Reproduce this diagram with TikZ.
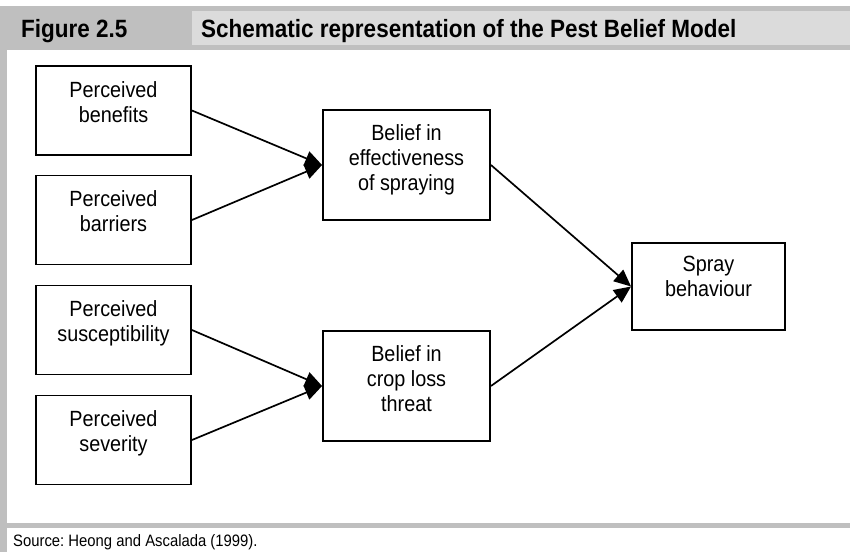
\documentclass[tikz,border=0pt]{standalone}
\usepackage{fontspec}
\setmainfont{Liberation Sans}[FakeStretch=0.9]
\usetikzlibrary{arrows.meta}
\frenchspacing
\definecolor{banddark}{gray}{0.75}
\definecolor{bandlight}{gray}{0.86}
\tikzset{
  box/.style={draw=black, line width=1.9pt, minimum width=155pt},
  boxtext/.style={anchor=north, align=center, inner sep=0pt,
    font=\fontsize{22}{25}\selectfont},
  link/.style={line width=1.7pt, -{Triangle[length=17pt,width=15pt]}},
}
\begin{document}
\begin{tikzpicture}[x=1pt, y=-1pt]
\useasboundingbox (0,0) rectangle (850,552);
% header band and frame
\fill[banddark] (0,6) rectangle (850,50);
\fill[bandlight] (192,11) rectangle (850,45);
\fill[banddark] (0,50) rectangle (7,552);
\fill[banddark] (7,523) rectangle (850,528);
\node[anchor=base west, inner sep=0pt, font=\fontsize{25}{28}\selectfont\bfseries] (fig) at (21,37) {Figure 2.5};
\node[anchor=base west, inner sep=0pt, font=\fontsize{25}{28}\selectfont\bfseries] (title) at (201,37) {Schematic representation of the Pest Belief Model};
\node[anchor=base west, inner sep=0pt, font=\fontsize{16.5}{19}\selectfont] (src) at (13,546) {Source: Heong and Ascalada (1999).};
% boxes
\node[box, minimum height=89pt] (ben) at (113.5,110.5) {};
\node[box, minimum height=89pt] (bar) at (113.5,220) {};
\node[box, minimum height=89pt] (sus) at (113.5,330) {};
\node[box, minimum height=89pt] (sev) at (113.5,440) {};
\node[box, minimum width=167pt, minimum height=110pt] (eff) at (406.5,165) {};
\node[box, minimum width=167pt, minimum height=110pt] (crop) at (406.5,386) {};
\node[box, minimum width=153pt, minimum height=87pt] (spray) at (708.5,286.5) {};
% box texts
\node[boxtext] (bent) at ([yshift=-16pt]ben.north) {Perceived\\benefits};
\node[boxtext] (bart) at ([yshift=-16pt]bar.north) {Perceived\\barriers};
\node[boxtext] (sust) at ([yshift=-16pt]sus.north) {Perceived\\susceptibility};
\node[boxtext] (sevt) at ([yshift=-16pt]sev.north) {Perceived\\severity};
\node[boxtext] (efft) at ([yshift=-15pt]eff.north) {Belief in\\effectiveness\\of spraying};
\node[boxtext] (cropt) at ([yshift=-15pt]crop.north) {Belief in\\crop loss\\threat};
\node[boxtext] (sprayt) at ([yshift=-14pt]spray.north) {Spray\\behaviour};
% connectors
\draw[link] (ben.east) -- (eff.west);
\draw[link] (bar.east) -- (eff.west);
\draw[link] (sus.east) -- (crop.west);
\draw[link] (sev.east) -- (crop.west);
\draw[link] (eff.east) -- (spray.west);
\draw[link] (crop.east) -- (spray.west);
\end{tikzpicture}
\end{document}
